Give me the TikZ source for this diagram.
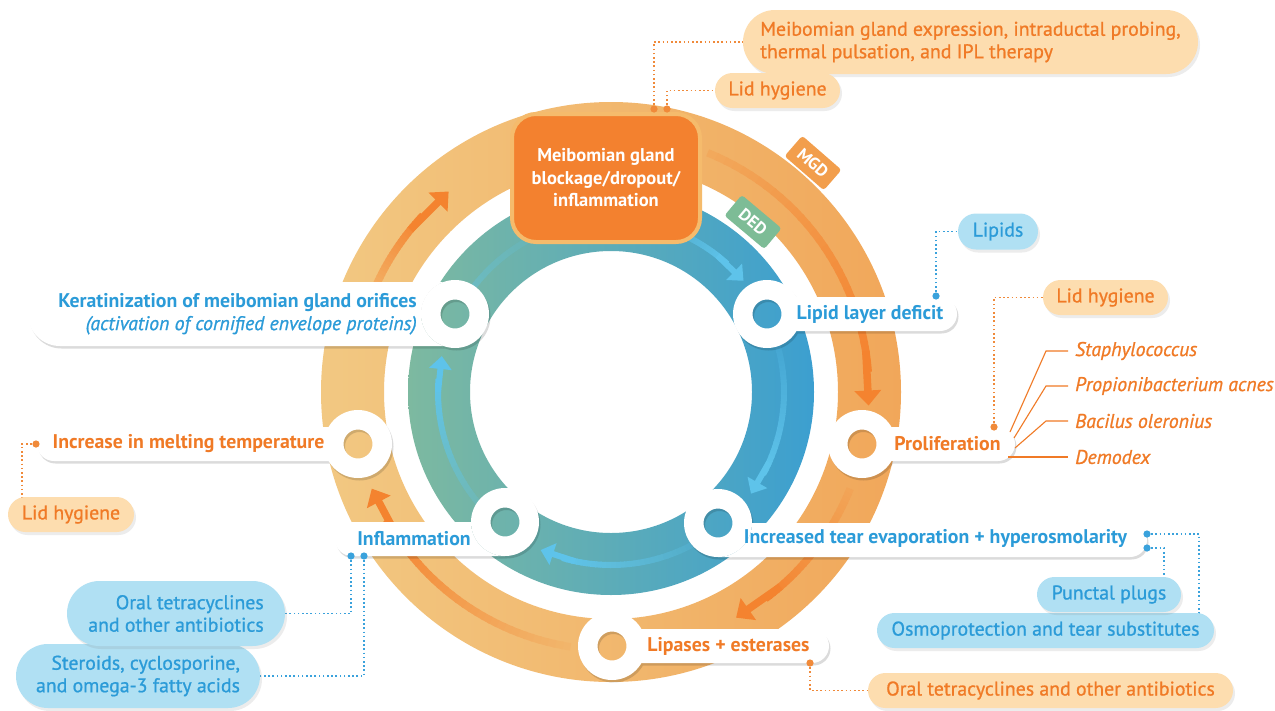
\documentclass[tikz,border=0pt]{standalone}
\usepackage{fontspec}
\setmainfont{PT Sans}
\newfontfamily\medfont{PT Sans}[FakeBold=0.9]
\newfontfamily\meditfont{PT Sans Italic}[FakeBold=0.9]
\usetikzlibrary{calc,arrows.meta,shapes.misc,shadows}
\definecolor{oTxt}{HTML}{F07A26}
\definecolor{bTxt}{HTML}{2B9BD8}
\definecolor{peach}{HTML}{FDDDAF}
\definecolor{skyb}{HTML}{B0E0F3}
\definecolor{ringL}{HTML}{F2C882}
\definecolor{ringR}{HTML}{F1A75A}
\definecolor{tealL}{HTML}{7DB9A0}
\definecolor{tealR}{HTML}{3C9FD0}
\definecolor{oTrk}{HTML}{F4832F}
\definecolor{bTrk}{HTML}{5EC3EA}
\definecolor{boxO}{HTML}{F3812F}
\definecolor{boxB}{HTML}{F5BB6C}
\definecolor{mgdTab}{HTML}{F29E4C}
\definecolor{dedTab}{HTML}{7DBC96}
\definecolor{dotO}{HTML}{F08A3A}
\definecolor{dotB}{HTML}{3AA2DC}
\newcommand\myfs{\fontsize{19.8pt}{22.5pt}\selectfont}
\newcommand\fadearc[9]{%
  \foreach \kk in {0,...,29}{%
    \pgfmathsetmacro\arcA{#2+(#3-#2)*\kk/30}%
    \pgfmathsetmacro\arcB{#2+(#3-#2)*(\kk+1.25)/30}%
    \pgfmathtruncatemacro\xpct{50+45*cos((\arcA+\arcB)/2)}%
    \pgfmathtruncatemacro\tpct{#8+(#9-#8)*\kk/29}%
    \colorlet{tmpring}{#6!\xpct!#5}%
    \draw[line width=#7, color=#4!\tpct!tmpring] ($(C)+(\arcA:#1)$) arc (\arcA:\arcB:#1);
  }}
\newcommand\pLipid{(787,297) -- (940,297) arc(-90:90:17) -- (787,331) -- cycle}
\newcommand\pProl{(882,427) -- (998,427) arc(-90:90:17) -- (882,461) -- cycle}
\newcommand\pIncr{(752,523) -- (1130,523) arc(-90:90:17) -- (718,557) arc(90:0:34) -- cycle}
\newcommand\pLipa{(632,629) -- (812,629) arc(-90:90:17) -- (632,663) -- cycle}
\newcommand\pInfl{(505,556) -- (352,556) arc(90:270:17) -- (471,522) arc(180:90:34) -- cycle}
\newcommand\pMelt{(338,427) -- (54,427) arc(-90:-270:17) -- (338,461) -- cycle}
\newcommand\pKer{(443.5,282) -- (60,282) arc(-90:-270:32) -- (443.5,346) arc(109.8:250.2:34) -- cycle}
\newcommand\annul[2]{(#1,#2) circle (34) (#1,#2) circle (14.5)}
\tikzset{
  lblO/.style={text=oTxt, font=\myfs\bfseries, inner sep=0pt},
  lblB/.style={text=bTxt, font=\myfs\bfseries, inner sep=0pt},
  ital/.style={text=oTxt, font=\myfs\meditfont, inner sep=0pt},
  callO/.style={rounded rectangle, fill=peach, text=oTxt, inner sep=0pt, align=center, font=\myfs\medfont,
    drop shadow={opacity=0.15, shadow xshift=2pt, shadow yshift=-3pt}},
  callB/.style={rounded rectangle, fill=skyb, text=bTxt, inner sep=0pt, align=center, font=\myfs\medfont,
    drop shadow={opacity=0.15, shadow xshift=2pt, shadow yshift=-3pt}},
  dotsO/.style={draw=dotO, line width=1.6pt, dash pattern=on 1.6pt off 2.6pt},
  dotsB/.style={draw=dotB, line width=1.6pt, dash pattern=on 1.6pt off 2.6pt},
  tabsty/.style={minimum width=52pt, minimum height=27pt, rounded corners=3pt, text=white, inner sep=0pt,
    font=\fontsize{17pt}{17pt}\selectfont\bfseries},
  oArr/.style={draw=oTrk, line width=7.5pt, -{Triangle[length=15pt,width=26pt]}},
  bArr/.style={draw=bTrk, line width=6pt, -{Triangle[length=13pt,width=22pt]}},
  bact/.style={draw=oTxt, line width=1.1pt},
}
\begin{document}
\begin{tikzpicture}[x=1pt,y=-1pt]
\useasboundingbox (0,0) rectangle (1275,710);
\fill[white] (0,0) rectangle (1275,710);
\coordinate (C) at (611,392);
% rings
\shade[left color=ringL, right color=ringR, even odd rule] (C) circle (290) (C) circle (227);
\shade[left color=tealL, right color=tealR, even odd rule] (C) circle (203) (C) circle (141);
% orange tracks
\fadearc{258}{-68}{-5}{oTrk}{ringL}{ringR}{7.5pt}{20}{100}
\draw[oArr] ($(C)+(-9:258)$) -- ($(C)+(3:258)$);
\fadearc{258}{22}{53}{oTrk}{ringL}{ringR}{7.5pt}{15}{100}
\draw[oArr] ($(C)+(49:258)$) -- ($(C)+(61:258)$);
\fadearc{258}{99}{150}{oTrk}{ringL}{ringR}{7.5pt}{10}{100}
\draw[oArr] ($(C)+(146:258)$) -- ($(C)+(158:258)$);
\fadearc{258}{198}{223}{oTrk}{ringL}{ringR}{7.5pt}{15}{100}
\draw[oArr] ($(C)+(219:258)$) -- ($(C)+(231:258)$);
% teal tracks
\fadearc{173}{-74}{-48}{bTrk}{tealL}{tealR}{6pt}{20}{100}
\draw[bArr] ($(C)+(-52:173)$) -- ($(C)+(-40:173)$);
\fadearc{173}{-20}{28}{bTrk}{tealL}{tealR}{6pt}{10}{100}
\draw[bArr] ($(C)+(24:173)$) -- ($(C)+(36:173)$);
\fadearc{173}{58}{106}{bTrk}{tealL}{tealR}{6pt}{15}{100}
\draw[bArr] ($(C)+(102:173)$) -- ($(C)+(114:173)$);
\fadearc{173}{135}{184}{bTrk}{tealL}{tealR}{6pt}{15}{100}
\draw[bArr] ($(C)+(180:173)$) -- ($(C)+(192:173)$);
\fadearc{173}{212}{250}{bTrk}{tealL}{tealR}{6pt}{45}{5}
% tabs
\node[tabsty, fill=mgdTab, rotate=-41] (mgd) at (813,163) {MGD};
\node[tabsty, fill=dedTab, rotate=-40] (ded) at (753,222) {DED};
% central box
\node[draw=boxB, line width=4pt, fill=boxO, rounded corners=24pt, minimum width=188pt, minimum height=128pt,
  text=white, align=center, inner sep=0pt, font=\fontsize{18.5pt}{22.5pt}\selectfont\bfseries] (mgb) at (606,178)
  {Meibomian gland\\blockage/dropout/\\inflammation};
% shadows of step nodes
\begin{scope}[shift={(1.5,2.5)}, transparency group, opacity=0.14]
  \fill[black] \pLipid; \fill[black] \pProl; \fill[black] \pIncr; \fill[black] \pLipa;
  \fill[black] \pInfl; \fill[black] \pMelt; \fill[black] \pKer;
  \fill[black, even odd rule] \annul{767}{314} \annul{455}{314} \annul{505}{522} \annul{718}{523}
     \annul{862}{444} \annul{358}{444} \annul{612}{646};
\end{scope}
% white step nodes
\fill[white] \pLipid; \fill[white] \pProl; \fill[white] \pIncr; \fill[white] \pLipa;
\fill[white] \pInfl; \fill[white] \pMelt; \fill[white] \pKer;
\fill[white, even odd rule] \annul{767}{314};
\fill[white, even odd rule] \annul{455}{314};
\fill[white, even odd rule] \annul{505}{522};
\fill[white, even odd rule] \annul{718}{523};
\fill[white, even odd rule] \annul{862}{444};
\fill[white, even odd rule] \annul{358}{444};
\fill[white, even odd rule] \annul{612}{646};
% step labels
\node[lblB] (tLipid) at (870,314) {Lipid layer deficit};
\node[lblO] (tProl) at (947.5,444) {Proliferation};
\node[lblB] (tIncr) at (935.5,538) {Increased tear evaporation + hyperosmolarity};
\node[lblO] (tLipa) at (728.5,646) {Lipases + esterases};
\node[lblB] (tInfl) at (414,539) {Inflammation};
\node[lblO] (tMelt) at (188.5,444) {Increase in melting temperature};
\node[anchor=east, align=right, inner sep=0pt, text=bTxt, font=\myfs] (tKer) at (417,314)
  {\textbf{Keratinization of meibomian gland orifices}\\{\meditfont (activation of cornified envelope proteins)}};
% connector end points
\coordinate (dA) at (654,109);
\coordinate (dB) at (667,109);
\coordinate (dLip) at (936,296);
\coordinate (dPro) at (994,427);
\coordinate (dMelt) at (36,444);
\coordinate (dInA) at (351,556);
\coordinate (dInB) at (364,556);
\coordinate (dIncA) at (1147,534);
\coordinate (dIncB) at (1147,548);
\coordinate (dLipa) at (810,663);
\coordinate (eMelt) at (22,499);
\coordinate (eOsmo) at (1199,614);
\coordinate (ePunct) at (1164,578);
% callout centres
\path (970.5,42) coordinate (cMge) (777.5,90.5) coordinate (cLidA) (998,231.5) coordinate (cLipids)
  (1105.5,297.5) coordinate (cLidB) (71,514.5) coordinate (cLidC) (176,613.5) coordinate (cOralA)
  (138,676) coordinate (cSter) (1109,594.5) coordinate (cPunct) (1045.5,630.5) coordinate (cOsmo)
  (1050.5,690.5) coordinate (cOralB);
% dotted connectors
\draw[dotsO] (dA) |- ($(cMge)+(-227.5,0)$);
\draw[dotsO] (dB) |- ($(cLidA)+(-62.5,0)$);
\draw[dotsB] (dLip) |- ($(cLipids)+(-40,0)$);
\draw[dotsO] (dPro) |- ($(cLidB)+(-62.5,0)$);
\draw[dotsO] (dMelt) -| (eMelt);
\draw[dotsB] (dInA) |- ($(cOralA)+(109,0)$);
\draw[dotsB] (dInB) |- ($(cSter)+(122,0)$);
\draw[dotsB] (dIncA) -| (eOsmo);
\draw[dotsB] (dIncB) -| (ePunct);
\draw[dotsO] (dLipa) |- ($(cOralB)+(-182.5,0)$);
% callouts
\node[callO, minimum width=455pt, minimum height=64pt, align=left] (mge) at (cMge)
  {Meibomian gland expression, intraductal probing,\\thermal pulsation, and IPL therapy};
\node[callO, minimum width=125pt, minimum height=35pt] (lidA) at (cLidA) {Lid hygiene};
\node[callB, minimum width=80pt, minimum height=36pt] (lipids) at (cLipids) {Lipids};
\node[callO, minimum width=125pt, minimum height=35pt] (lidB) at (cLidB) {Lid hygiene};
\node[callO, minimum width=126pt, minimum height=35pt] (lidC) at (cLidC) {Lid hygiene};
\node[callB, minimum width=244pt, minimum height=64pt, align=right] (ster) at (cSter)
  {Steroids, cyclosporine,\\and omega-3 fatty acids};
\node[callB, minimum width=218pt, minimum height=65pt, align=right] (oralA) at (cOralA)
  {Oral tetracyclines\\and other antibiotics};
\node[callB, minimum width=337pt, minimum height=35pt] (osmo) at (cOsmo) {Osmoprotection and tear substitutes};
\node[callB, minimum width=144pt, minimum height=35pt] (punct) at (cPunct) {Punctal plugs};
\node[callO, minimum width=365pt, minimum height=35pt] (oralB) at (cOralB) {Oral tetracyclines and other antibiotics};
% dots
\foreach \d in {dA,dB,dPro,dMelt,dLipa} \fill[dotO] (\d) circle (3.6);
\foreach \d in {dLip,dInA,dInB,dIncA,dIncB} \fill[dotB] (\d) circle (3.6);
% bacteria
\node[ital, anchor=west] (tStaph) at (1075,351) {Staphylococcus};
\node[ital, anchor=west] (tProp) at (1075,386) {Propionibacterium acnes};
\node[ital, anchor=west] (tBac) at (1075,421) {Bacilus oleronius};
\node[ital, anchor=west] (tDemo) at (1075,457) {Demodex};
\coordinate (bS) at (1010,432);
\coordinate (bP) at (1014,438);
\coordinate (bB) at (1015,448);
\coordinate (bD) at (1008,457);
\draw[bact] (bS) -- ([xshift=-29pt]tStaph.west) -- ([xshift=-7pt]tStaph.west);
\draw[bact] (bP) -- ([xshift=-29pt]tProp.west) -- ([xshift=-7pt]tProp.west);
\draw[bact] (bB) -- ([xshift=-29pt]tBac.west) -- ([xshift=-7pt]tBac.west);
\draw[bact] (bD) -- ([xshift=-7pt]tDemo.west);
\end{tikzpicture}
\end{document}
